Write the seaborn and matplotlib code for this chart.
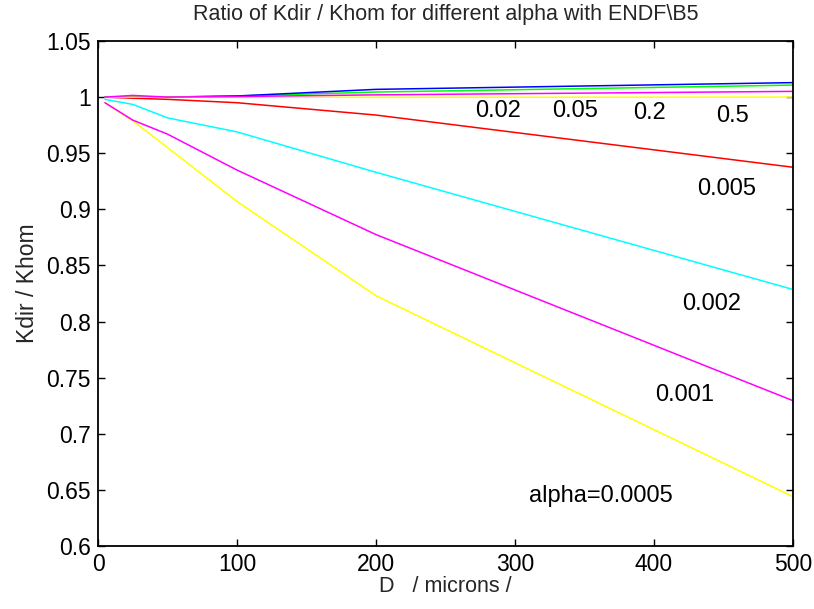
import matplotlib
matplotlib.use("Agg")
import matplotlib.pyplot as plt
import seaborn as sns
import pandas as pd

# Particle diameter D (microns)
D = [5, 25, 50, 100, 200, 500]

# Kdir / Khom ratio for each alpha
k_a0005 = [0.995, 0.979, 0.955, 0.907, 0.823, 0.644]
k_a001 = [0.995, 0.9795, 0.967, 0.935, 0.8775, 0.7295]
k_a002 = [0.998, 0.9935, 0.9815, 0.969, 0.933, 0.8286]
k_a005 = [1.000, 0.999, 0.998, 0.995, 0.984, 0.9375]
k_a02 = [1.000, 1.000, 1.000, 1.001, 1.0045, 1.0107]
k_a05 = [1.000, 1.000, 1.000, 1.001, 1.0069, 1.0129]
k_a2 = [1.000, 1.000, 1.000, 1.000, 0.9998, 1.000]
k_a5 = [1.000, 1.0015, 1.000, 1.0005, 1.002, 1.0051]

alphas = ["0.0005", "0.001", "0.002", "0.005", "0.02", "0.05", "0.2", "0.5"]
series = [k_a0005, k_a001, k_a002, k_a005, k_a02, k_a05, k_a2, k_a5]
colors = ["#ffff00", "#ff00ff", "#00ffff", "#ff0000",
          "#00ff00", "#0000ff", "#ffff00", "#ff00ff"]

# Curve labels and where they sit (D, ratio)
label_texts = ["0.02", "0.05", "0.2", "0.5", "0.005", "0.002", "0.001", "alpha=0.0005"]
label_x = [271, 327, 385, 445, 431, 420, 401, 310]
label_y = [0.9878, 0.9878, 0.986, 0.983, 0.918, 0.816, 0.735, 0.645]

rows = []
for a, ys in zip(alphas, series):
    for d, v in zip(D, ys):
        rows.append({"D": d, "ratio": v, "alpha": a})
df = pd.DataFrame(rows)

sns.set_theme(style="white")
plt.rcParams["font.family"] = ["Liberation Sans", "DejaVu Sans"]

fig = plt.figure(figsize=(8.14, 6.09), dpi=100)
ax = fig.add_axes([0.1204, 0.1034, 0.9742 - 0.1204, 0.9327 - 0.1034])

sns.lineplot(data=df, x="D", y="ratio", hue="alpha", hue_order=alphas,
             palette=dict(zip(alphas, colors)), linewidth=1.1,
             legend=False, ax=ax, sort=False)

for t, x, y in zip(label_texts, label_x, label_y):
    ax.text(x, y, t, fontsize=17, ha="left", va="center", color="black")

ax.set_xlim(0, 500)
ax.set_ylim(0.6, 1.05)
xt = [0, 100, 200, 300, 400, 500]
yt = [0.6, 0.65, 0.7, 0.75, 0.8, 0.85, 0.9, 0.95, 1.0, 1.05]
ax.set_xticks(xt)
ax.set_xticklabels([str(v) for v in xt])
ax.set_yticks(yt)
ax.set_yticklabels([f"{v:g}" for v in yt])
ax.tick_params(direction="in", length=5, width=1, colors="black",
               labelsize=16.5, top=True, right=True, bottom=True, left=True,
               pad=5)
for s in ax.spines.values():
    s.set_visible(True)
    s.set_color("black")
    s.set_linewidth(1.3)

ax.set_xlabel("D   / microns /", fontsize=15.5, labelpad=0)
ax.set_ylabel("Kdir / Khom", fontsize=16.5, labelpad=4)
ax.yaxis.set_label_coords(-0.085, 0.52)
ax.set_title("Ratio of Kdir / Khom for different alpha with ENDF\\B5",
             fontsize=15.5, pad=15)

fig.savefig("out.png", dpi=100, facecolor="white")
